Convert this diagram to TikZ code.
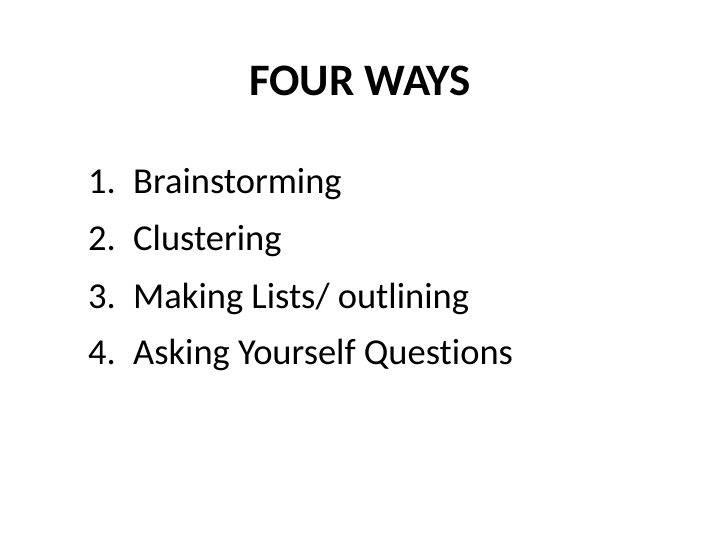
\documentclass[tikz,border=0pt]{standalone}
\usepackage{fontspec}
\setmainfont[Ligatures={NoCommon}]{Carlito}
\begin{document}
\begin{tikzpicture}[x=1pt,y=1pt,
  item/.style={anchor=base west,inner sep=0pt,font=\fontsize{36.5}{42}\selectfont},
  num/.style={anchor=base west,inner sep=0pt,font=\fontsize{36.5}{42}\selectfont}]
\useasboundingbox[fill=white] (0,0) rectangle (720,-540);
\node[anchor=base,inner sep=0pt,font=\fontsize{45}{50}\selectfont\bfseries] (title) at (360,-96) {FOUR WAYS};
\node[num] (n1) at (88,-194) {1.};
\node[item] (t1) at (133,-194) {Brainstorming};
\node[num] (n2) at (88,-251) {2.};
\node[item] (t2) at (133,-251) {Clustering};
\node[num] (n3) at (88,-308) {3.};
\node[item] (t3) at (133,-308) {Making Lists/ outlining};
\node[num] (n4) at (88,-364) {4.};
\node[item] (t4) at (133,-364) {Asking Yourself Questions};
\end{tikzpicture}
\end{document}
